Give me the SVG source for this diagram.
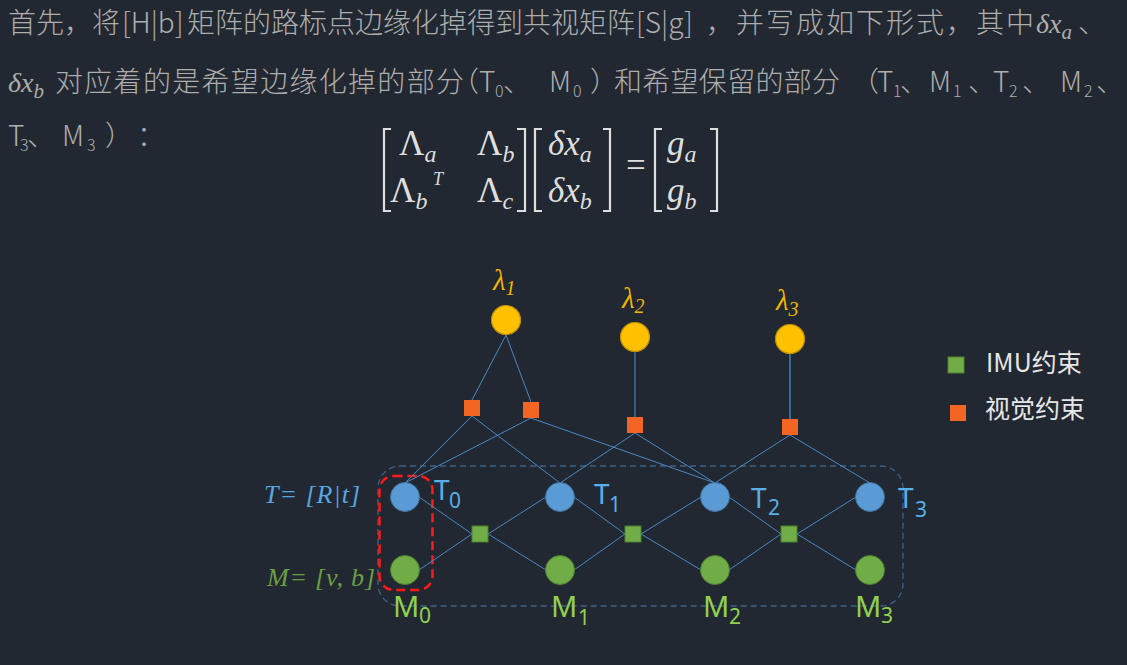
<svg xmlns="http://www.w3.org/2000/svg" width="1127" height="665" viewBox="0 0 1127 665">
<style>
.hd{font-family:"Noto Sans CJK SC Light","Noto Sans CJK SC","Noto Sans",sans-serif;font-weight:300;font-size:28px;fill:#adadad}
.sb{font-size:16px}
.mi{font-family:"Liberation Serif","DejaVu Serif",serif;font-style:italic}
.eq{font-family:"Liberation Serif","DejaVu Serif",serif;font-size:35px;fill:#dedede}
.br{fill:none;stroke:#dedede;stroke-width:2.2}
.e{stroke:#4a88c4;stroke-width:1;fill:none}
.tn{fill:#5b9bd5;stroke:#41719c;stroke-width:1}
.mn{fill:#70ad47;stroke:#507e32;stroke-width:1}
.yn{fill:#ffc000;stroke:#bf9000;stroke-width:1.2}
.or{fill:#f26522}
.tl{font-family:"Noto Sans","Liberation Sans",sans-serif;fill:#5aaeea}
.ml{font-family:"Noto Sans","Liberation Sans",sans-serif;fill:#92d050}
.lam{font-family:"Liberation Serif","DejaVu Serif",serif;font-style:italic;fill:#f2b600}
.lg{font-family:"Noto Sans CJK SC","Noto Sans",sans-serif;font-size:25px;fill:#e6e6e6}
</style>
<rect width="1127" height="665" fill="#222831"/>

<g id="header">
<text class="hd" x="8" y="33">首先，将</text>
<text class="hd" x="122" y="33">[H|b]</text>
<text class="hd" x="187" y="33" textLength="448" lengthAdjust="spacing">矩阵的路标点边缘化掉得到共视矩阵</text>
<text class="hd" x="636" y="33">[S|g]</text>
<text class="hd" x="706" y="33" textLength="328" lengthAdjust="spacing">，并写成如下形式，其中</text>
<text class="hd mi" x="1036" y="33" font-size="30">δx<tspan font-size="21" dy="6">a</tspan></text>
<text class="hd" x="1078" y="33">、</text>

<text class="hd mi" x="8" y="92" font-size="30">δx<tspan font-size="21" dy="6">b</tspan></text>
<text class="hd" y="92"><tspan x="55" textLength="409" lengthAdjust="spacing">对应着的是希望边缘化掉的部分</tspan><tspan x="451">（</tspan><tspan x="479">T</tspan><tspan class="sb" x="495" y="97">0</tspan><tspan x="503" y="92">、</tspan><tspan x="549">M</tspan><tspan class="sb" x="573" y="97">0</tspan><tspan x="590" y="92">）</tspan></text>
<text class="hd" y="92"><tspan x="614" textLength="226" lengthAdjust="spacing">和希望保留的部分</tspan><tspan x="851">（</tspan><tspan x="877">T</tspan><tspan class="sb" x="893" y="97">1</tspan><tspan x="900" y="92">、</tspan><tspan x="929">M</tspan><tspan class="sb" x="953" y="97">1</tspan><tspan x="968" y="92">、</tspan><tspan x="993">T</tspan><tspan class="sb" x="1009" y="97">2</tspan><tspan x="1022" y="92">、</tspan><tspan x="1060">M</tspan><tspan class="sb" x="1084" y="97">2</tspan><tspan x="1096" y="92">、</tspan></text>

<text class="hd" y="146"><tspan x="8">T</tspan><tspan class="sb" x="20" y="151">3</tspan><tspan x="27" y="146">、</tspan><tspan x="62">M</tspan><tspan class="sb" x="87" y="151">3</tspan><tspan x="105" y="146">）</tspan><tspan x="137">：</tspan></text>
</g>

<g id="equation">
<path class="br" d="M391 129H384V211H391"/>
<path class="br" d="M517 129H525V211H517"/>
<path class="br" d="M542 129H535V211H542"/>
<path class="br" d="M603 129H610V211H603"/>
<path class="br" d="M662 129H655V211H662"/>
<path class="br" d="M710 129H717V211H710"/>
<text class="eq" x="399" y="155">Λ<tspan class="mi" font-size="24" dy="7">a</tspan></text>
<text class="eq" x="477" y="155">Λ<tspan class="mi" font-size="24" dy="7">b</tspan></text>
<text class="eq" x="390" y="202">Λ<tspan class="mi" font-size="24" dy="7">b</tspan><tspan class="mi" font-size="18" x="433" y="185">T</tspan></text>
<text class="eq" x="477" y="202">Λ<tspan class="mi" font-size="24" dy="7">c</tspan></text>
<text class="eq mi" x="548" y="155">δx<tspan font-size="24" dy="7">a</tspan></text>
<text class="eq mi" x="548" y="202">δx<tspan font-size="24" dy="7">b</tspan></text>
<text class="eq" x="626" y="177">=</text>
<text class="eq mi" x="667" y="155">g<tspan font-size="24" dy="7">a</tspan></text>
<text class="eq mi" x="667" y="202">g<tspan font-size="24" dy="7">b</tspan></text>
</g>

<g id="groups">
<rect x="378" y="466" width="525" height="140" rx="22" fill="none" stroke="#3e6288" stroke-width="1.3" stroke-dasharray="6 4"/>
<rect x="379.5" y="476" width="53" height="114" rx="14" fill="none" stroke="#ff1a1a" stroke-width="2.5" stroke-dasharray="9 5"/>
</g>

<g id="connectors">
<path class="e" d="M506 335L472 400M506 335L531 402"/>
<path d="M635 352V417" stroke="#43698f" stroke-width="1.6"/>
<path d="M790 353V419" stroke="#4a8ccc" stroke-width="1.3"/>
<path class="e" d="M472 416L405 483M472 416L560 483"/>
<path class="e" d="M531 418L405 483M531 418L715 483"/>
<path class="e" d="M635 433L560 483M635 433L715 483"/>
<path class="e" d="M790 435L715 483M790 435L870 483"/>
<path class="e" d="M419 497L472 534M419 570L472 534M488 534L546 497M488 534L546 570"/>
<path class="e" d="M574 497L625 534M574 570L625 534M641 534L701 497M641 534L701 570"/>
<path class="e" d="M729 497L781 534M729 570L781 534M797 534L856 497M797 534L856 570"/>
</g>

<g id="lambda1"><circle class="yn" cx="506" cy="320" r="14.5"/><text class="lam" x="493" y="290" font-size="29">λ<tspan font-size="20" dy="5">1</tspan></text></g>
<g id="lambda2"><circle class="yn" cx="635" cy="337" r="14.5"/><text class="lam" x="622" y="308" font-size="29">λ<tspan font-size="20" dy="5">2</tspan></text></g>
<g id="lambda3"><circle class="yn" cx="790" cy="339" r="14.5"/><text class="lam" x="776" y="310" font-size="29">λ<tspan font-size="20" dy="6">3</tspan></text></g>

<g id="vis1"><rect class="or" x="464" y="400" width="16" height="16"/></g>
<g id="vis2"><rect class="or" x="523" y="402" width="16" height="16"/></g>
<g id="vis3"><rect class="or" x="627" y="417" width="16" height="16"/></g>
<g id="vis4"><rect class="or" x="782" y="419" width="16" height="16"/></g>

<g id="imu0"><rect class="mn" x="472" y="526" width="16" height="16"/></g>
<g id="imu1"><rect class="mn" x="625" y="526" width="16" height="16"/></g>
<g id="imu2"><rect class="mn" x="781" y="526" width="16" height="16"/></g>

<g id="T0"><circle class="tn" cx="405" cy="497" r="14.5"/><text class="tl" x="434" y="500" font-size="28">T<tspan font-size="21" x="449" y="508">0</tspan></text></g>
<g id="T1"><circle class="tn" cx="560" cy="497" r="14.5"/><text class="tl" x="594" y="504" font-size="28">T<tspan font-size="21" x="609" y="512">1</tspan></text></g>
<g id="T2"><circle class="tn" cx="715" cy="497" r="14.5"/><text class="tl" x="751" y="508" font-size="28">T<tspan font-size="21" x="768" y="515">2</tspan></text></g>
<g id="T3"><circle class="tn" cx="870" cy="497" r="14.5"/><text class="tl" x="898" y="508" font-size="28">T<tspan font-size="21" x="915" y="517">3</tspan></text></g>

<g id="M0"><circle class="mn" cx="405" cy="570" r="14.5"/><text class="ml" x="393" y="617" font-size="29">M<tspan font-size="21" x="419" y="623">0</tspan></text></g>
<g id="M1"><circle class="mn" cx="560" cy="570" r="14.5"/><text class="ml" x="551" y="617" font-size="29">M<tspan font-size="21" x="578" y="625">1</tspan></text></g>
<g id="M2"><circle class="mn" cx="715" cy="570" r="14.5"/><text class="ml" x="703" y="617" font-size="29">M<tspan font-size="21" x="729" y="624">2</tspan></text></g>
<g id="M3"><circle class="mn" cx="870" cy="570" r="14.5"/><text class="ml" x="855" y="617" font-size="29">M<tspan font-size="21" x="881" y="623">3</tspan></text></g>

<g id="labels">
<text class="mi" x="264" y="503" font-size="26" fill="#57a7e0" textLength="96" lengthAdjust="spacing">T= [R|t]</text>
<text class="mi" x="267" y="586" font-size="26" fill="#6a9f44" textLength="108" lengthAdjust="spacing">M= [v, b]</text>
</g>

<g id="legend">
<rect class="mn" x="948" y="357" width="16" height="16"/>
<text class="lg" x="986" y="372">IMU约束</text>
<rect class="or" x="950" y="405" width="16" height="16"/>
<text class="lg" x="985" y="418">视觉约束</text>
</g>
</svg>
